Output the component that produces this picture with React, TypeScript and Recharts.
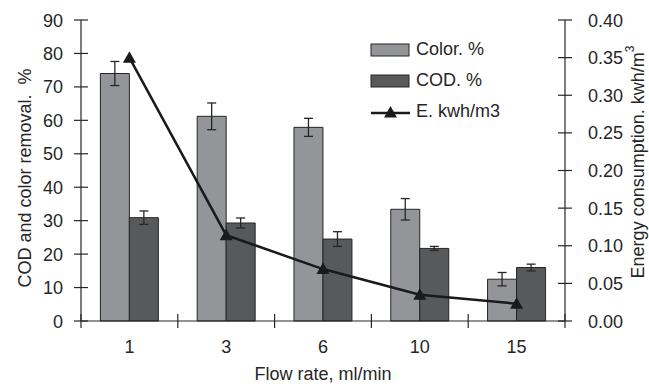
import React from "react";
import { ComposedChart, Bar, Line, XAxis, YAxis, ErrorBar, Legend } from "recharts";

// values
const flowRates = ["1", "3", "6", "10", "15"];
const colorRemoval = [74, 61.2, 57.9, 33.4, 12.5];
const colorErr = [3.6, 4, 2.7, 3.2, 2];
const codRemoval = [30.9, 29.3, 24.5, 21.7, 16];
const codErr = [2, 1.5, 2.2, 0.6, 1];
const energy = [0.35, 0.114, 0.069, 0.035, 0.023];

const leftTicks = [0, 10, 20, 30, 40, 50, 60, 70, 80, 90];
const rightTicks = [0, 0.05, 0.1, 0.15, 0.2, 0.25, 0.3, 0.35, 0.4];
const legendOrder = ["Color. %", "COD. %", "E. kwh/m3"];

const data = flowRates.map((f, i) => ({
    flow: f,
    color: colorRemoval[i],
    colorErr: colorErr[i],
    cod: codRemoval[i],
    codErr: codErr[i],
    energy: energy[i],
}));

const FONT = "'Liberation Sans', Arial, sans-serif";
const FS = 18;
const INK = "#262626";
const TICK = 7;
const MARGIN = 12;
const PLOT_W = 484;

const LeftTick = ({ x, y, payload }: any) => {
    const ax = x + TICK + MARGIN;
    return (
        <g>
            <line x1={ax} x2={ax + TICK} y1={y} y2={y} stroke={INK} strokeWidth={1.2} />
            <text x={x + 1} y={y} dy={6.5} textAnchor="end" fontSize={FS} fontFamily={FONT} fill={INK}>{payload.value}</text>
        </g>
    );
};

const RightTick = ({ x, y, payload }: any) => {
    const ax = x - TICK - MARGIN;
    return (
        <g>
            <line x1={ax - TICK} x2={ax} y1={y} y2={y} stroke={INK} strokeWidth={1.2} />
            <text x={x + 4} y={y} dy={6.5} textAnchor="start" fontSize={FS} fontFamily={FONT} fill={INK}>{Number(payload.value).toFixed(2)}</text>
        </g>
    );
};

const BottomTick = ({ x, y, payload, index }: any) => {
    const ay = y - TICK - MARGIN;
    const band = PLOT_W / flowRates.length;
    const left = x - band / 2;
    return (
        <g>
            <line x1={left} x2={left} y1={ay - TICK} y2={ay + TICK} stroke={INK} strokeWidth={1.2} />
            {index === flowRates.length - 1 && (
                <line x1={x + band / 2} x2={x + band / 2} y1={ay - TICK} y2={ay + TICK} stroke={INK} strokeWidth={1.2} />
            )}
            <text x={x} y={y} dy={13} textAnchor="middle" fontSize={FS} fontFamily={FONT} fill={INK}>{payload.value}</text>
        </g>
    );
};

const Triangle = ({ cx, cy }: any) => {
    if (cx == null || cy == null) return null;
    return <path d={`M${cx},${cy - 6.5} L${cx + 6.5},${cy + 5} L${cx - 6.5},${cy + 5} Z`} fill="#1a1a1a" />;
};

const LegendBox = ({ payload }: any) => {
    const items = [...(payload || [])].sort((a: any, b: any) => legendOrder.indexOf(a.value) - legendOrder.indexOf(b.value));
    return (
        <div style={{ fontFamily: FONT, fontSize: FS, color: INK }}>
            {items.map((p: any) => (
                <div key={p.value} style={{ display: "flex", alignItems: "center", height: 31 }}>
                    <svg width={44} height={14} style={{ marginRight: 2 }}>
                        {p.type === "line" ? (
                            <g>
                                <line x1={1} x2={40} y1={8} y2={8} stroke="#1a1a1a" strokeWidth={2.5} />
                                <path d="M20.5,1 L27,12.5 L14,12.5 Z" fill="#1a1a1a" />
                            </g>
                        ) : (
                            <rect x={1} y={1} width={38} height={12} fill={p.color} stroke={INK} strokeWidth={1} />
                        )}
                    </svg>
                    <span>{p.value}</span>
                </div>
            ))}
        </div>
    );
};

const LeftLabel = ({ viewBox }: any) => {
    const cx = viewBox.x + 4;
    const cy = 178;
    return (
        <text x={cx} y={cy} transform={`rotate(-90 ${cx} ${cy})`} textAnchor="middle" dominantBaseline="central" fontSize={FS} fontFamily={FONT} fill={INK}>
            COD and color removal.{"\u00a0\u00a0"}%
        </text>
    );
};

const RightLabel = ({ viewBox }: any) => {
    const cx = viewBox.x + 73;
    const cy = 162;
    return (
        <text x={cx} y={cy} transform={`rotate(-90 ${cx} ${cy})`} textAnchor="middle" dominantBaseline="central" fontSize={FS} fontFamily={FONT} fill={INK}>
            Energy consumption. kwh/m<tspan dy={-8} fontSize={12}>3</tspan>
        </text>
    );
};

const BottomLabel = ({ viewBox }: any) => (
    <text x={viewBox.x + viewBox.width / 2} y={380} textAnchor="middle" fontSize={FS} fontFamily={FONT} fill={INK}>
        Flow rate, ml/min
    </text>
);

export default function App() {
    return (
        <div style={{ position: "absolute", left: 0, top: 0, width: 649, height: 384, background: "#fff" }}>
            <ComposedChart width={649} height={384} data={data} margin={{ top: 20, right: 20, bottom: 23, left: 21 }} barCategoryGap="20%" barGap={0}>
                <XAxis dataKey="flow" height={40} tick={<BottomTick />} tickLine={false} tickSize={TICK} tickMargin={MARGIN} stroke={INK} strokeWidth={1.2} interval={0} label={<BottomLabel />} />
                <XAxis xAxisId="top" dataKey="flow" orientation="top" height={0} tick={false} tickLine={false} stroke="#aaaaaa" strokeWidth={1.5} />
                <YAxis yAxisId="left" orientation="left" width={60} domain={[0, 90]} ticks={leftTicks} tick={<LeftTick />} tickSize={TICK} tickMargin={MARGIN} stroke={INK} strokeWidth={1.2} interval={0} label={<LeftLabel />} />
                <YAxis yAxisId="right" orientation="right" width={64} domain={[0, 0.4]} ticks={rightTicks} tick={<RightTick />} tickSize={TICK} tickMargin={MARGIN} stroke={INK} strokeWidth={1.2} interval={0} label={<RightLabel />} />
                <Legend layout="vertical" align="center" verticalAlign="middle" content={<LegendBox />} wrapperStyle={{ left: 370, top: 34, width: 170 }} />
                <Bar yAxisId="left" dataKey="color" name="Color. %" fill="#939598" stroke={INK} strokeWidth={1} isAnimationActive={false} legendType="rect">
                    <ErrorBar dataKey="colorErr" direction="y" width={4.5} stroke={INK} strokeWidth={1.3} />
                </Bar>
                <Bar yAxisId="left" dataKey="cod" name="COD. %" fill="#58595b" stroke={INK} strokeWidth={1} isAnimationActive={false} legendType="rect">
                    <ErrorBar dataKey="codErr" direction="y" width={4.5} stroke={INK} strokeWidth={1.3} />
                </Bar>
                <Line yAxisId="right" dataKey="energy" name="E. kwh/m3" type="linear" stroke="#1a1a1a" strokeWidth={2.5} dot={<Triangle />} activeDot={false} isAnimationActive={false} legendType="line" />
            </ComposedChart>
        </div>
    );
}
